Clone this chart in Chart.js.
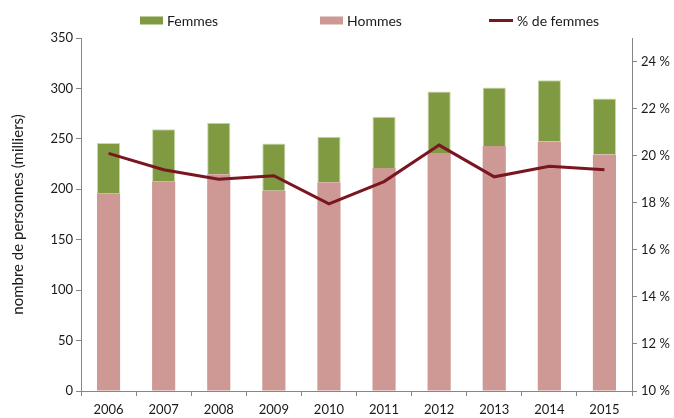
<!DOCTYPE html>
<html>
<head>
<meta charset="utf-8">
<script src="https://cdn.jsdelivr.net/npm/chart.js@4.4.0/dist/chart.umd.min.js"></script>
<style>
html,body{margin:0;padding:0;background:#fff;}
canvas{display:block;}
</style>
</head>
<body>
<canvas id="c" width="674" height="418"></canvas>
<script>
const categories = ['2006','2007','2008','2009','2010','2011','2012','2013','2014','2015'];
const hommes = [196, 208, 215, 198.5, 207, 221, 236, 243, 247.5, 234.5];
const femmes = [50, 51.5, 51, 47, 45, 51, 61, 58, 60.5, 55.5];
const pctFemmes = [20.1, 19.4, 19.0, 19.15, 17.95, 18.9, 20.45, 19.1, 19.55, 19.4];
const leftTicks = [0, 50, 100, 150, 200, 250, 300, 350];
const rightTicks = [10, 12, 14, 16, 18, 20, 22, 24];

const FONT = 'Lato, "Open Sans", sans-serif';
const AXIS = '#868686';
const GREEN = '#7F9A41';
const PINK = '#CE9894';
const LINE = '#7A1620';

const legendPlugin = {
  id: 'customLegend',
  afterDraw(chart) {
    const ctx = chart.ctx;
    const items = [
      {label: 'Femmes', x: 140, kind: 'box'},
      {label: 'Hommes', x: 320, kind: 'box'},
      {label: '% de femmes', x: 489, kind: 'line'}
    ];
    const y = 20.5;
    ctx.save();
    ctx.font = '14px ' + FONT;
    ctx.textBaseline = 'middle';
    items.forEach(it => {
      const d = chart.data.datasets.find(ds => ds.label === it.label);
      if (it.kind === 'box') {
        ctx.fillStyle = d.backgroundColor;
        ctx.fillRect(it.x, y - 4, 23, 8);
      } else {
        ctx.strokeStyle = d.borderColor;
        ctx.lineWidth = 3;
        ctx.beginPath();
        ctx.moveTo(it.x, y);
        ctx.lineTo(it.x + 24, y);
        ctx.stroke();
      }
      ctx.fillStyle = '#1a1a1a';
      ctx.textAlign = 'left';
      ctx.fillText(d.label, it.x + (it.kind === 'box' ? 27 : 28), y + 1);
    });
    ctx.restore();
  }
};

new Chart(document.getElementById('c'), {
  data: {
    labels: categories,
    datasets: [
      {type: 'bar', label: 'Hommes', data: hommes, backgroundColor: PINK, borderWidth: 0, stack: 's', yAxisID: 'y', order: 2, barPercentage: 0.42, categoryPercentage: 1.0},
      {type: 'bar', label: 'Femmes', data: femmes, backgroundColor: GREEN, borderColor: '#C9D8A8', borderWidth: {top:1, left:1, right:1, bottom:0}, stack: 's', yAxisID: 'y', order: 3, barPercentage: 0.42, categoryPercentage: 1.0},
      {type: 'line', label: '% de femmes', data: pctFemmes, borderColor: LINE, backgroundColor: LINE, borderWidth: 3, pointRadius: 0, tension: 0, yAxisID: 'y1', order: 0}
    ]
  },
  options: {
    responsive: false,
    animation: false,
    layout: {padding: {top: 38, left: 0, right: 0, bottom: 0}},
    plugins: {legend: {display: false}, tooltip: {enabled: false}},
    scales: {
      x: {
        stacked: true,
        offset: true,
        grid: {offset: true, drawOnChartArea: false, drawTicks: true, tickLength: 5, color: AXIS},
        border: {color: AXIS, width: 1},
        ticks: {font: {family: FONT, size: 13}, color: '#1a1a1a', padding: 6, maxRotation: 0},
        afterFit: s => { s.height = 27; }
      },
      y: {
        position: 'left',
        stacked: true,
        min: 0, max: 350,
        afterBuildTicks: s => { s.ticks = leftTicks.map(v => ({value: v})); },
        grid: {drawOnChartArea: false, drawTicks: true, tickLength: 5, color: AXIS},
        border: {color: AXIS, width: 1},
        ticks: {font: {family: FONT, size: 13}, color: '#1a1a1a', padding: 3},
        title: {display: true, text: 'nombre de personnes (milliers)', font: {family: FONT, size: 15}, color: '#1a1a1a', padding: {top: 9, bottom: 0}},
        afterFit: s => { s.width = 81; }
      },
      y1: {
        position: 'right',
        stacked: false,
        min: 10, max: 25,
        afterBuildTicks: s => { s.ticks = rightTicks.map(v => ({value: v})); },
        grid: {drawOnChartArea: false, drawTicks: true, tickLength: 5, color: AXIS},
        border: {color: AXIS, width: 1},
        ticks: {font: {family: FONT, size: 13}, color: '#1a1a1a', padding: 4, callback: v => v + ' %'},
        afterFit: s => { s.width = 42; }
      }
    }
  },
  plugins: [legendPlugin]
});
</script>
</body>
</html>
